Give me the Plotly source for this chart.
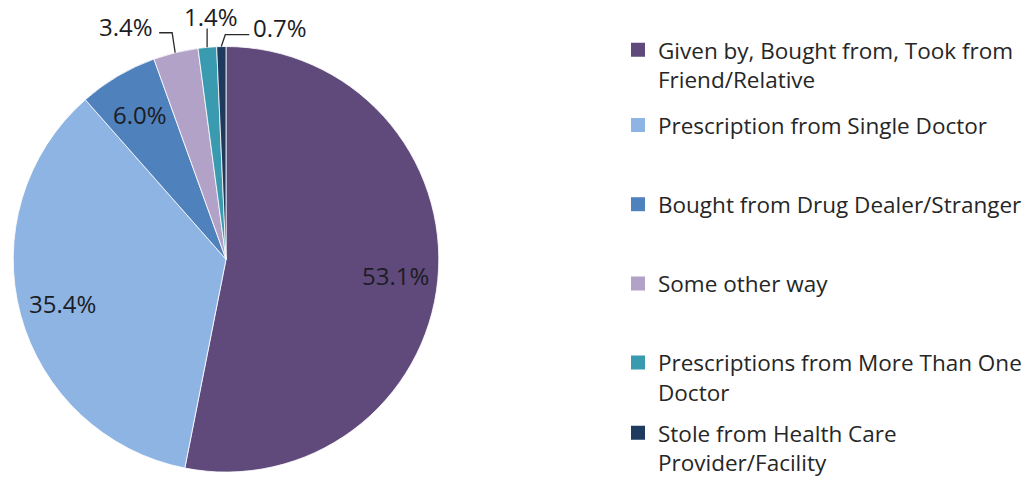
"""
Sources of prescription pain relievers — pie chart recreation
"""

import math
import plotly.graph_objects as go

# ─────────────────────────────────────────────────────────────────────────────
# Data
# ─────────────────────────────────────────────────────────────────────────────
labels = [
    "Given by, Bought from, Took from<br>Friend/Relative",
    "Prescription from Single Doctor",
    "Bought from Drug Dealer/Stranger",
    "Some other way",
    "Prescriptions from More Than One<br>Doctor",
    "Stole from Health Care<br>Provider/Facility",
]
shares = [53.1, 35.4, 6.0, 3.4, 1.4, 0.7]
colors = ["#604A7B", "#8EB4E3", "#4F81BD", "#B3A2C7", "#3A9BB0", "#1F3A5F"]

# ─────────────────────────────────────────────────────────────────────────────
# Layout constants (pixels)
# ─────────────────────────────────────────────────────────────────────────────
W, H = 1034, 484
CX, CY, R = 226, 262, 215
FONT = "'Open Sans', sans-serif"
TXT = 24
INK = "#1c1c24"
INSIDE_MIN = 5.0          # slices below this get an outside label with leader
LABEL_R = 0.79            # radial position of the inside labels

# legend entry tops (first text line) and x of the legend
legend_tops = [29, 105, 185, 265, 345, 416]
LEGEND_X = 618

# leader elbows for small slices: (rise dx, rise dy, run dx, label side)
leaders = {
    3: (-3, -20, -13, "left"),
    4: (0, -19, 0, "up"),
    5: (4, -12, 24, "right"),
}


def px(x):
    return x / W


def py(y):
    return 1 - y / H


fig = go.Figure()

fig.add_trace(go.Pie(
    labels=labels,
    values=shares,
    marker=dict(colors=colors, line=dict(color="white", width=0.8)),
    sort=False,
    direction="clockwise",
    rotation=0,
    textinfo="none",
    domain=dict(x=[px(CX - R), px(CX + R)], y=[py(CY + R), py(CY - R)]),
    showlegend=False,
    hoverinfo="label+value",
))

# ── Slice labels: inside for the big ones, leader lines for the small ones ──
total = sum(shares)
cum = 0.0
shapes, annotations = [], []
for i, v in enumerate(shares):
    mid = (cum + v / 2) / total * 2 * math.pi
    cum += v
    font = dict(family=FONT, size=TXT, color=INK)
    if v >= INSIDE_MIN:
        annotations.append(dict(
            x=px(CX + LABEL_R * R * math.sin(mid)),
            y=py(CY - LABEL_R * R * math.cos(mid)),
            xref="paper", yref="paper", text=f"{v:.1f}%", showarrow=False,
            xanchor="center", yanchor="middle", font=font,
        ))
        continue
    rdx, rdy, run, side = leaders[i]
    x0 = CX + R * math.sin(mid)
    y0 = CY - R * math.cos(mid)
    x1, y1 = x0 + rdx, y0 + rdy
    x2, y2 = x1 + run, y1
    path = f"M {px(x0)} {py(y0)} L {px(x1)} {py(y1)} L {px(x2)} {py(y2)}"
    shapes.append(dict(type="path", xref="paper", yref="paper", path=path,
                       line=dict(color="#2a2a2a", width=1.3)))
    if side == "left":
        ax, ay, xa, ya = x2 - 4, y2 - 6, "right", "middle"
    elif side == "right":
        ax, ay, xa, ya = x2 + 2, y2 - 7, "left", "middle"
    else:
        ax, ay, xa, ya = x1 + 4, y1 + 7, "center", "bottom"
    annotations.append(dict(
        x=px(ax), y=py(ay), xref="paper", yref="paper",
        text=f"{v:.1f}%", showarrow=False, xanchor=xa, yanchor=ya, font=font,
    ))

# ── Legend: one dummy trace per entry so each can sit at its own height ─────
legend_layout = {}
for i, (lab, col) in enumerate(zip(labels, colors)):
    key = "legend" if i == 0 else f"legend{i + 1}"
    fig.add_trace(go.Scatter(
        x=[None], y=[None], mode="markers", name=lab,
        marker=dict(symbol="square", size=14, color=col),
        legend=key, showlegend=True, hoverinfo="skip",
    ))
    legend_layout[key] = dict(
        x=px(LEGEND_X), y=py(legend_tops[i]), xanchor="left", yanchor="top",
        valign="top", bgcolor="rgba(0,0,0,0)", borderwidth=0,
        font=dict(family=FONT, size=22.5, color="#262626"),
        itemwidth=30,
    )

fig.update_layout(
    width=W, height=H,
    margin=dict(l=0, r=0, t=0, b=0),
    paper_bgcolor="white",
    plot_bgcolor="white",
    xaxis=dict(visible=False),
    yaxis=dict(visible=False),
    shapes=shapes,
    annotations=annotations,
    **legend_layout,
)

# the page's default body margin would push the figure 8px off the window
fig.write_html(
    "out.html",
    config={"displayModeBar": False},
    post_script="document.body.style.margin = '0';",
)
